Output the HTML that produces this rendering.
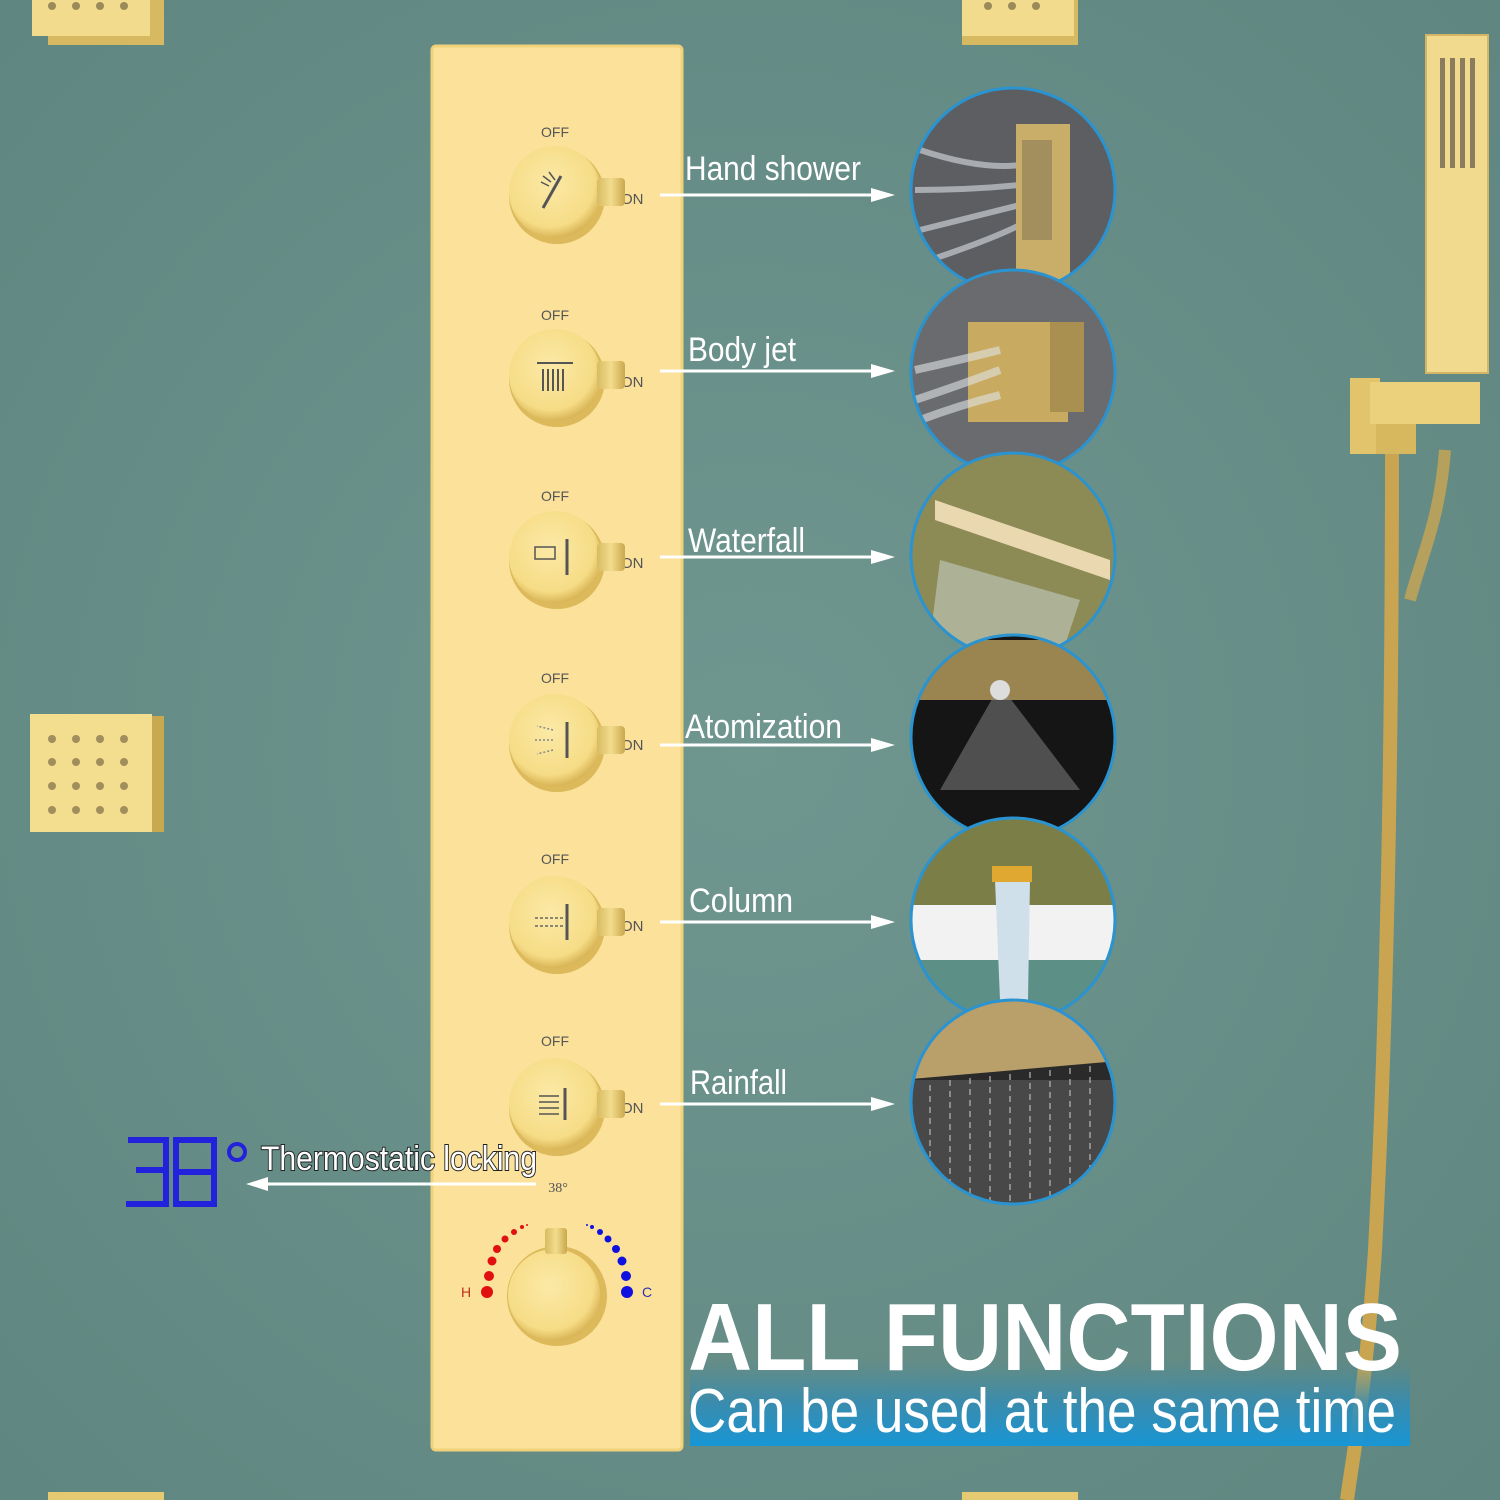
<!DOCTYPE html>
<html><head><meta charset="utf-8"><style>
html,body{margin:0;padding:0;width:1500px;height:1500px;overflow:hidden;background:#6a918a}
svg{display:block}
</style></head><body>
<svg width="1500" height="1500" viewBox="0 0 1500 1500" xmlns="http://www.w3.org/2000/svg" font-family="Liberation Sans, sans-serif">
<defs>
<radialGradient id="bg" cx="0.5" cy="0.5" r="0.7"><stop offset="0" stop-color="#6f968f"/><stop offset="1" stop-color="#5f8680"/></radialGradient>
<radialGradient id="knob" cx="0.45" cy="0.4" r="0.6"><stop offset="0" stop-color="#fbe9a6"/><stop offset="0.8" stop-color="#f6dc86"/><stop offset="1" stop-color="#d9b657"/></radialGradient>
<linearGradient id="band" x1="0" y1="0" x2="0" y2="1"><stop offset="0" stop-color="#3a8ca6" stop-opacity="0"/><stop offset="0.5" stop-color="#2f8cb8" stop-opacity="0.8"/><stop offset="1" stop-color="#1796d6"/></linearGradient>
<linearGradient id="bandx" x1="0" y1="0" x2="1" y2="0"><stop offset="0" stop-color="#fff" stop-opacity="0.15"/><stop offset="1" stop-color="#fff" stop-opacity="0"/></linearGradient>
<linearGradient id="gold" x1="0" y1="0" x2="1" y2="0"><stop offset="0" stop-color="#d8bb62"/><stop offset="0.5" stop-color="#f3dc8e"/><stop offset="1" stop-color="#caa84e"/></linearGradient>
<clipPath id="c1"><circle cx="1013" cy="190" r="102"/></clipPath>
<clipPath id="c2"><circle cx="1013" cy="372" r="102"/></clipPath>
<clipPath id="c3"><circle cx="1013" cy="555" r="102"/></clipPath>
<clipPath id="c4"><circle cx="1013" cy="737" r="102"/></clipPath>
<clipPath id="c5"><circle cx="1013" cy="920" r="102"/></clipPath>
<clipPath id="c6"><circle cx="1013" cy="1102" r="102"/></clipPath>
</defs>
<rect width="1500" height="1500" fill="url(#bg)"/>

<rect x="48" y="0" width="116" height="45" fill="#d7b962"/><rect x="32" y="0" width="118" height="36" fill="#f2db8c"/>
<g fill="#9a8a5a"><circle cx="52" cy="6" r="4"/><circle cx="76" cy="6" r="4"/><circle cx="100" cy="6" r="4"/><circle cx="124" cy="6" r="4"/></g>
<rect x="962" y="0" width="116" height="45" fill="#d7b962"/><rect x="962" y="0" width="112" height="36" fill="#f2db8c"/>
<g fill="#9a8a5a"><circle cx="988" cy="6" r="4"/><circle cx="1012" cy="6" r="4"/><circle cx="1036" cy="6" r="4"/></g>
<rect x="48" y="1492" width="116" height="8" fill="#e6ca72"/><rect x="962" y="1492" width="116" height="8" fill="#e6ca72"/>

<rect x="150" y="716" width="14" height="116" fill="#c9a94f"/>
<rect x="30" y="714" width="122" height="118" fill="#f3dd8e"/>
<g fill="#a08e5c">
<circle cx="52" cy="739" r="4"/><circle cx="76" cy="739" r="4"/><circle cx="100" cy="739" r="4"/><circle cx="124" cy="739" r="4"/>
<circle cx="52" cy="762" r="4"/><circle cx="76" cy="762" r="4"/><circle cx="100" cy="762" r="4"/><circle cx="124" cy="762" r="4"/>
<circle cx="52" cy="786" r="4"/><circle cx="76" cy="786" r="4"/><circle cx="100" cy="786" r="4"/><circle cx="124" cy="786" r="4"/>
<circle cx="52" cy="810" r="4"/><circle cx="76" cy="810" r="4"/><circle cx="100" cy="810" r="4"/><circle cx="124" cy="810" r="4"/>
</g>

<path d="M1392 450 C1392 700 1388 1000 1375 1250 C1365 1400 1352 1460 1347 1500" stroke="#c9a552" stroke-width="14" fill="none"/>
<path d="M1445 450 C1440 520 1420 560 1410 600" stroke="#c9a552" stroke-width="12" fill="none" opacity="0.8"/>
<rect x="1426" y="35" width="62" height="338" fill="#f1da8e"/>
<rect x="1426" y="35" width="62" height="338" fill="none" stroke="#d4b566" stroke-width="2"/>
<g fill="#8a7d5e">
<rect x="1440" y="58" width="5" height="110"/><rect x="1450" y="58" width="5" height="110"/><rect x="1460" y="58" width="5" height="110"/><rect x="1470" y="58" width="5" height="110"/>
</g>
<rect x="1350" y="378" width="30" height="76" fill="#e2c46c"/>
<rect x="1370" y="382" width="110" height="42" fill="#ecd17c"/>
<rect x="1376" y="424" width="40" height="30" fill="#d8b85e"/>

<rect x="432" y="46" width="250" height="1404" rx="4" fill="#fbe19a"/>
<rect x="432" y="46" width="250" height="1404" rx="4" fill="none" stroke="#f0d27a" stroke-width="3"/>

<g font-size="14" fill="#555" text-anchor="middle">
<text x="555" y="137">OFF</text><text x="555" y="320">OFF</text><text x="555" y="501">OFF</text>
<text x="555" y="683">OFF</text><text x="555" y="864">OFF</text><text x="555" y="1046">OFF</text>
</g>
<g font-size="15" fill="#555">
<text x="621" y="204">ON</text><text x="621" y="387">ON</text><text x="621" y="568">ON</text>
<text x="621" y="750">ON</text><text x="621" y="931">ON</text><text x="621" y="1113">ON</text>
</g>

<g>
<g transform="translate(555,192)"><ellipse cx="2" cy="4" rx="48" ry="48" fill="#dcb95a"/><circle r="46" fill="url(#knob)"/><rect x="42" y="-14" width="28" height="28" rx="4" fill="url(#gold)"/><path d="M-12 16 L6 -16" stroke="#555" stroke-width="3"/><path d="M-14 -10 l8 4 M-12 -16 l8 6 M-6 -20 l6 8" stroke="#555" stroke-width="1.5"/></g>
<g transform="translate(555,375)"><ellipse cx="2" cy="4" rx="48" ry="48" fill="#dcb95a"/><circle r="46" fill="url(#knob)"/><rect x="42" y="-14" width="28" height="28" rx="4" fill="url(#gold)"/><path d="M-18 -12 h36 M-12 -6 v22 M-7 -6 v22 M-2 -6 v22 M3 -6 v22 M8 -6 v22" stroke="#555" stroke-width="2"/></g>
<g transform="translate(555,557)"><ellipse cx="2" cy="4" rx="48" ry="48" fill="#dcb95a"/><circle r="46" fill="url(#knob)"/><rect x="42" y="-14" width="28" height="28" rx="4" fill="url(#gold)"/><path d="M12 -18 v36" stroke="#555" stroke-width="3"/><path d="M0 -10 h-20 v12 h20 z" stroke="#555" stroke-width="1.5" fill="none"/></g>
<g transform="translate(555,740)"><ellipse cx="2" cy="4" rx="48" ry="48" fill="#dcb95a"/><circle r="46" fill="url(#knob)"/><rect x="42" y="-14" width="28" height="28" rx="4" fill="url(#gold)"/><path d="M12 -18 v36" stroke="#555" stroke-width="3"/><path d="M-2 -10 l-16 -4 M-2 0 h-18 M-2 10 l-16 4" stroke="#888" stroke-width="1.5" stroke-dasharray="2 2"/></g>
<g transform="translate(555,922)"><ellipse cx="2" cy="4" rx="48" ry="48" fill="#dcb95a"/><circle r="46" fill="url(#knob)"/><rect x="42" y="-14" width="28" height="28" rx="4" fill="url(#gold)"/><path d="M12 -18 v36" stroke="#555" stroke-width="3"/><path d="M-20 -4 h28 M-20 4 h28" stroke="#666" stroke-width="1.5" stroke-dasharray="3 2"/></g>
<g transform="translate(555,1104)"><ellipse cx="2" cy="4" rx="48" ry="48" fill="#dcb95a"/><circle r="46" fill="url(#knob)"/><rect x="42" y="-14" width="28" height="28" rx="4" fill="url(#gold)"/><path d="M10 -16 v32" stroke="#555" stroke-width="3"/><path d="M-16 -8 h20 M-16 -2 h20 M-16 4 h20 M-16 10 h20" stroke="#555" stroke-width="1.5"/></g>
</g>

<text x="558" y="1192" font-family="Liberation Serif, serif" font-size="14" fill="#555" text-anchor="middle">38°</text>
<g fill="#e01010"><circle cx="487" cy="1292" r="6"/><circle cx="489" cy="1276" r="5"/><circle cx="492" cy="1261" r="4.5"/><circle cx="497" cy="1249" r="4"/><circle cx="505" cy="1239" r="3.5"/><circle cx="514" cy="1232" r="3"/><circle cx="522" cy="1227" r="2"/><circle cx="527" cy="1225" r="1"/></g>
<g fill="#1010e0"><circle cx="627" cy="1292" r="6"/><circle cx="626" cy="1276" r="5"/><circle cx="622" cy="1261" r="4.5"/><circle cx="616" cy="1249" r="4"/><circle cx="608" cy="1239" r="3.5"/><circle cx="600" cy="1232" r="3"/><circle cx="592" cy="1227" r="2"/><circle cx="587" cy="1225" r="1"/></g>
<text x="466" y="1297" font-size="14" fill="#c03020" text-anchor="middle">H</text>
<text x="647" y="1297" font-size="14" fill="#3030b0" text-anchor="middle">C</text>
<ellipse cx="557" cy="1296" rx="50" ry="50" fill="#dcb95a"/>
<circle cx="554" cy="1295" r="46" fill="url(#knob)"/>
<rect x="545" y="1228" width="22" height="26" rx="3" fill="url(#gold)"/>

<g fill="none" stroke="#2222dd" stroke-width="6">
<path d="M128 1140 h38 v30 h-30 M166 1170 v34 h-40"/>
<path d="M176 1140 h38 v64 h-38 z M176 1172 h38"/>
</g>
<circle cx="237" cy="1152" r="8" fill="none" stroke="#2222dd" stroke-width="4"/>
<text x="261" y="1170" font-size="34" fill="#fff" stroke="#222" stroke-width="2" paint-order="stroke" textLength="276" lengthAdjust="spacingAndGlyphs">Thermostatic locking</text>
<path d="M536 1184 H262" stroke="#fff" stroke-width="3"/>
<path d="M246 1184 l22 -7 v14 z" fill="#fff"/>

<g fill="#fff" font-size="34">
<text x="685" y="180" textLength="176" lengthAdjust="spacingAndGlyphs">Hand shower</text>
<text x="688" y="361" textLength="108" lengthAdjust="spacingAndGlyphs">Body jet</text>
<text x="688" y="552" textLength="117" lengthAdjust="spacingAndGlyphs">Waterfall</text>
<text x="685" y="738" textLength="157" lengthAdjust="spacingAndGlyphs">Atomization</text>
<text x="689" y="912" textLength="104" lengthAdjust="spacingAndGlyphs">Column</text>
<text x="690" y="1094" textLength="97" lengthAdjust="spacingAndGlyphs">Rainfall</text>
</g>
<g stroke="#fff" stroke-width="3">
<path d="M660 195 H875"/><path d="M660 371 H875"/><path d="M660 557 H875"/><path d="M660 745 H875"/><path d="M660 922 H875"/><path d="M660 1104 H875"/>
</g>
<g fill="#fff">
<path d="M895 195 l-24 -7 v14z"/><path d="M895 371 l-24 -7 v14z"/><path d="M895 557 l-24 -7 v14z"/><path d="M895 745 l-24 -7 v14z"/><path d="M895 922 l-24 -7 v14z"/><path d="M895 1104 l-24 -7 v14z"/>
</g>

<g clip-path="url(#c1)"><rect x="900" y="80" width="230" height="220" fill="#5c5e62"/>
<path d="M920 150 Q980 170 1020 165 M915 190 Q970 190 1020 185 M920 230 Q980 215 1020 205 M930 260 Q990 240 1020 225" stroke="#c9ccd0" stroke-width="6" fill="none" opacity="0.7"/>
<rect x="1016" y="124" width="54" height="170" fill="#c9ae6a"/><rect x="1022" y="140" width="30" height="100" fill="#8a7a55" opacity="0.6"/></g>
<circle cx="1013" cy="190" r="102" fill="none" stroke="#2a93d0" stroke-width="3"/>

<g clip-path="url(#c2)"><rect x="900" y="265" width="230" height="220" fill="#6a6b6e"/>
<rect x="968" y="322" width="100" height="100" fill="#c8aa60"/><rect x="1050" y="322" width="34" height="90" fill="#a98f50"/>
<path d="M915 370 Q960 360 1000 350 M915 400 Q960 385 1000 370 M920 420 Q960 405 1000 395" stroke="#dfe2e6" stroke-width="8" fill="none" opacity="0.6"/></g>
<circle cx="1013" cy="372" r="102" fill="none" stroke="#2a93d0" stroke-width="3"/>

<g clip-path="url(#c3)"><rect x="900" y="450" width="230" height="220" fill="#8c8a55"/>
<path d="M935 500 L1110 560 L1110 580 L935 520 Z" fill="#ead8b0"/>
<path d="M940 560 L1080 600 L1060 660 L930 640 Z" fill="#b5bca8" opacity="0.8"/></g>
<circle cx="1013" cy="555" r="102" fill="none" stroke="#2a93d0" stroke-width="3"/>

<g clip-path="url(#c4)"><rect x="900" y="630" width="230" height="220" fill="#151515"/>
<rect x="900" y="640" width="230" height="60" fill="#9a8550"/>
<path d="M1000 685 L940 790 L1080 790 Z" fill="#8a8a8a" opacity="0.5"/><circle cx="1000" cy="690" r="10" fill="#ddd"/></g>
<circle cx="1013" cy="737" r="102" fill="none" stroke="#2a93d0" stroke-width="3"/>

<g clip-path="url(#c5)"><rect x="900" y="815" width="230" height="220" fill="#7c7e48"/>
<rect x="900" y="905" width="230" height="55" fill="#f2f2f2"/><rect x="900" y="960" width="230" height="80" fill="#5c8f86"/>
<path d="M995 880 L1030 880 L1028 1000 L1000 1000 Z" fill="#cfe0ea"/><rect x="992" y="866" width="40" height="16" fill="#e0a830"/></g>
<circle cx="1013" cy="920" r="102" fill="none" stroke="#2a93d0" stroke-width="3"/>

<g clip-path="url(#c6)"><rect x="900" y="995" width="230" height="220" fill="#2a2a2a"/>
<path d="M900 1000 L1130 1000 L1130 1060 L900 1080 Z" fill="#b9a06a"/>
<rect x="900" y="1080" width="230" height="130" fill="#666" opacity="0.5"/>
<path d="M930 1085 v110 M950 1080 v120 M970 1078 v125 M990 1076 v130 M1010 1074 v130 M1030 1072 v130 M1050 1070 v130 M1070 1068 v125 M1090 1066 v120" stroke="#bbb" stroke-width="2" stroke-dasharray="6 5" opacity="0.6"/></g>
<circle cx="1013" cy="1102" r="102" fill="none" stroke="#2a93d0" stroke-width="3"/>

<rect x="690" y="1360" width="720" height="86" fill="url(#band)"/>
<text x="688" y="1370" font-size="96" font-weight="bold" fill="#fff" textLength="714" lengthAdjust="spacingAndGlyphs">ALL FUNCTIONS</text>
<text x="688" y="1432" font-size="62" fill="#fff" textLength="708" lengthAdjust="spacingAndGlyphs">Can be used at the same time</text>
</svg>
</body></html>
